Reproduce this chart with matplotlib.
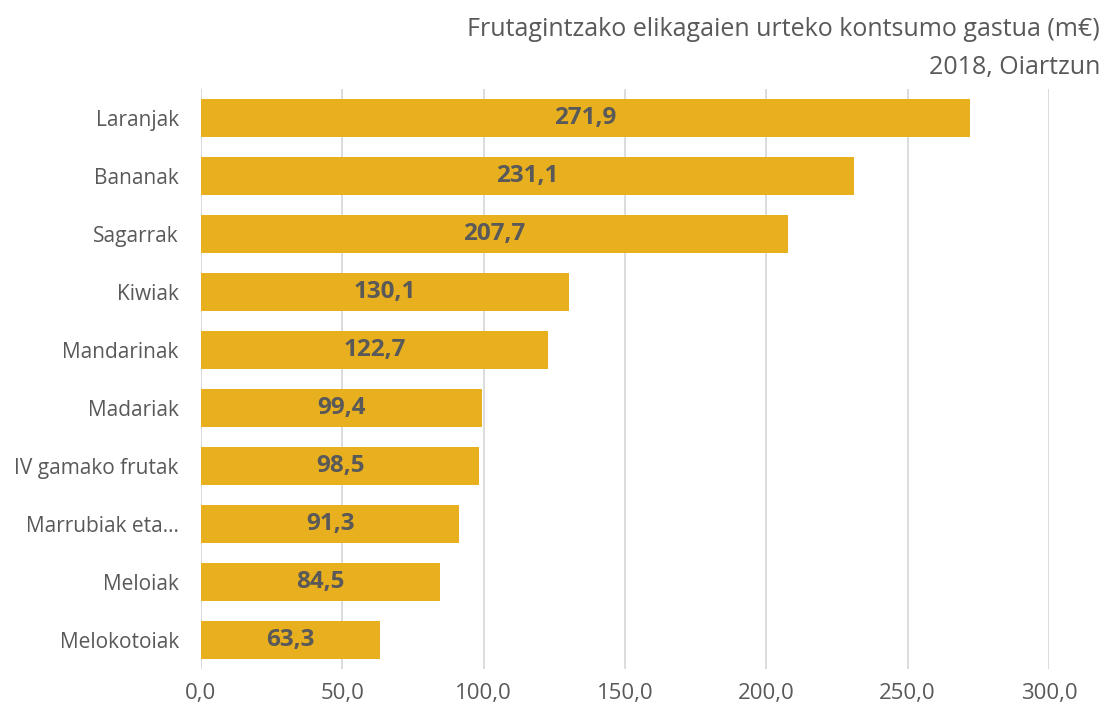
import matplotlib
matplotlib.use("Agg")
import matplotlib.pyplot as plt

categories = ["Laranjak", "Bananak", "Sagarrak", "Kiwiak", "Mandarinak",
              "Madariak", "IV gamako frutak", "Marrubiak eta…", "Meloiak",
              "Melokotoiak"]
values = [271.9, 231.1, 207.7, 130.1, 122.7, 99.4, 98.5, 91.3, 84.5, 63.3]
xticks = [0, 50, 100, 150, 200, 250, 300]

title_lines = ["Frutagintzako elikagaien urteko kontsumo gastua (m€)",
               "2018, Oiartzun"]

BAR = "#E8AF1F"
TXT = "#595959"
GRID = "#D9D9D9"

plt.rcParams["font.family"] = ["Open Sans", "DejaVu Sans"]

fig = plt.figure(figsize=(11.05, 7.08), dpi=100)
ax = fig.add_axes([0.1819, 0.0551, 0.7674, 0.8192])

pos = list(range(len(categories)))
ax.barh(pos, values, height=0.655, color=BAR, zorder=2)
ax.set_ylim(len(categories) - 0.5, -0.5)
ax.set_xlim(0, 300)

for p, v in zip(pos, values):
    ax.text(v / 2, p, f"{v:.1f}".replace(".", ","), ha="center", va="center",
            fontsize=17.5, fontweight="bold", color=TXT, zorder=3)

ax.set_yticks(pos)
ax.set_yticklabels(categories, fontsize=15, color=TXT)
ax.set_xticks(xticks)
ax.set_xticklabels([f"{t:.1f}".replace(".", ",") for t in xticks],
                   fontsize=16, color=TXT)
ax.tick_params(axis="both", length=0)
ax.tick_params(axis="y", pad=16)
ax.tick_params(axis="x", pad=10)

ax.grid(axis="x", color=GRID, linewidth=1.3, zorder=0)
for s in ax.spines.values():
    s.set_visible(False)

fig.text(0.9955, 0.958, title_lines[0], ha="right", va="center",
         fontsize=18, color=TXT)
fig.text(0.9955, 0.905, title_lines[1], ha="right", va="center",
         fontsize=18, color=TXT)

fig.savefig("out.png", dpi=100)
